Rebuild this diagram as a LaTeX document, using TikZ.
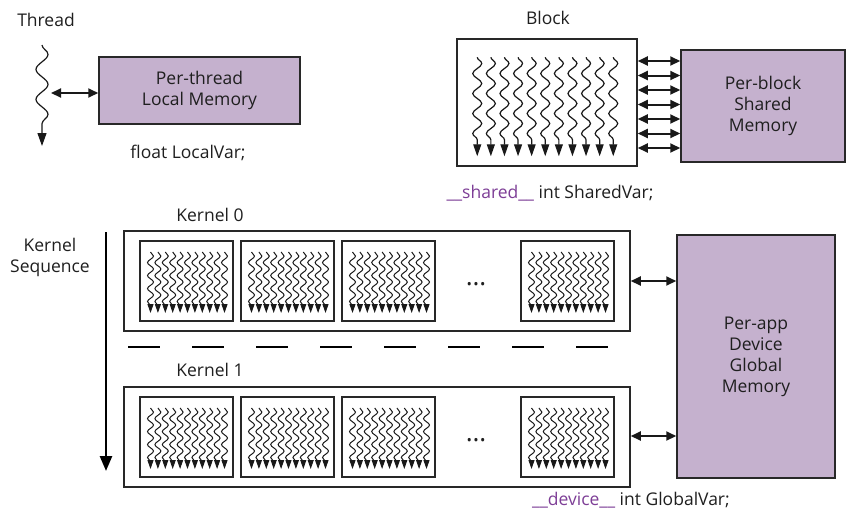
\documentclass[tikz,border=0pt]{standalone}
\usepackage{fontspec}
\setmainfont{Open Sans}
\usetikzlibrary{arrows.meta,decorations.pathmorphing,calc}
\definecolor{memfill}{RGB}{197,177,206}
\definecolor{kw}{RGB}{125,62,150}
\definecolor{edge}{RGB}{40,40,40}
\newcommand{\smallsquigs}[1]{%
  \foreach \dx in {0,...,10}{%
    \draw[sq small] ($(#1.center)+(-36+7.4*\dx,-29)$) -- ($(#1.center)+(-36+7.4*\dx,32)$);
  }}
\begin{document}
\begin{tikzpicture}[x=1pt,y=-1pt,
  every node/.style={font=\fontsize{17.5}{21}\selectfont, text=black!88},
  mem/.style={draw=edge, line width=1.5pt, fill=memfill, align=center, inner sep=0pt},
  frame/.style={draw=edge, line width=1.5pt, inner sep=0pt},
  dbl/.style={line width=2pt, draw=black!90, {Triangle[length=10pt,width=9pt]}-{Triangle[length=10pt,width=9pt]}},
  sq big/.style={draw=black!90, line width=1.2pt, decorate,
    decoration={snake, amplitude=6pt, segment length=30pt, post length=11pt},
    -{Triangle[length=13pt,width=9pt]}},
  sq mid/.style={draw=black!90, line width=1.2pt, decorate,
    decoration={snake, amplitude=4.5pt, segment length=20pt, post length=9pt},
    -{Triangle[length=12pt,width=8pt]}},
  sq small/.style={draw=black!90, line width=1pt, decorate,
    decoration={snake, amplitude=3pt, segment length=13pt, post length=7pt},
    -{Triangle[length=9pt,width=6pt]}},
]
\useasboundingbox (0,0) rectangle (848,523);

% ---------- Thread ----------
\node (thrlbl) at (46,20) {Thread};
\coordinate (thrtop) at (42,45);
\coordinate (thrbot) at (42,146);
\draw[sq big] (thrtop) -- (thrbot);
\coordinate (thrmid) at (51,93);
\node[mem, minimum width=201pt, minimum height=67pt] (local) at (199.5,90.5) {Per-thread\\Local Memory};
\draw[dbl] (thrmid) -- (local.west |- thrmid);
\node (lvar) at (188,153) {float LocalVar;};

% ---------- Block ----------
\node (blklbl) at (548,18) {Block};
\node[frame, minimum width=180pt, minimum height=127pt] (blk) at (547,102.5) {};
\foreach \i in {0,...,10}{
  \draw[sq mid] ($(blk.north west)+(21+13.6*\i,19)$) -- ($(blk.north west)+(21+13.6*\i,118)$);
}
\node[mem, minimum width=164pt, minimum height=112pt] (shm) at (763,106) {Per-block\\Shared\\Memory};
\foreach \y in {61,75.5,90,104.5,119,133.5,148}{
  \draw[dbl] (blk.east |- 0,\y) -- (shm.west |- 0,\y);
}
\node (svar) at (550,193) {\textcolor{kw}{\_\_shared\_\_} int SharedVar;};

% ---------- Kernels ----------
\node (k0lbl) at (210,215) {Kernel 0};
\node (k1lbl) at (210,370) {Kernel 1};
\node[align=center] (kseq) at (50,257) {Kernel\\Sequence};
\coordinate (seqtop) at (106,232);
\coordinate (seqbot) at (106,471);
\draw[line width=2.6pt, -{Triangle[length=15pt,width=12pt]}] (seqtop) -- (seqbot);

\node[frame, minimum width=506pt, minimum height=100pt] (k0) at (377,281) {};
\node[frame, minimum width=506pt, minimum height=100pt] (k1) at (377,437) {};

\node[frame, minimum width=93pt, minimum height=80pt] (b00) at (186.5,281) {};
\node[frame, minimum width=93pt, minimum height=80pt] (b01) at (287.5,281) {};
\node[frame, minimum width=93pt, minimum height=80pt] (b02) at (388.5,281) {};
\node[frame, minimum width=93pt, minimum height=80pt] (b03) at (567.5,281) {};
\node[frame, minimum width=93pt, minimum height=80pt] (b10) at (186.5,437) {};
\node[frame, minimum width=93pt, minimum height=80pt] (b11) at (287.5,437) {};
\node[frame, minimum width=93pt, minimum height=80pt] (b12) at (388.5,437) {};
\node[frame, minimum width=93pt, minimum height=80pt] (b13) at (567.5,437) {};
\foreach \n in {b00,b01,b02,b03,b10,b11,b12,b13}{\smallsquigs{\n}}

\node[font=\fontsize{26}{26}\selectfont] (dots0) at (476,284) {\dots};
\node[font=\fontsize{26}{26}\selectfont] (dots1) at (476,440) {\dots};

\coordinate (dashL) at (128,347);
\coordinate (dashR) at (608,347);
\draw[line width=2.6pt, dash pattern=on 32pt off 32pt] (dashL) -- (dashR);

\node[mem, minimum width=158pt, minimum height=243pt] (glob) at (756,356.5) {Per-app\\Device\\Global\\Memory};
\draw[dbl] (k0.east |- 0,281) -- (glob.west |- 0,281);
\draw[dbl] (k1.east |- 0,436) -- (glob.west |- 0,436);

\node (gvar) at (631,500) {\textcolor{kw}{\_\_device\_\_} int GlobalVar;};
\end{tikzpicture}
\end{document}
